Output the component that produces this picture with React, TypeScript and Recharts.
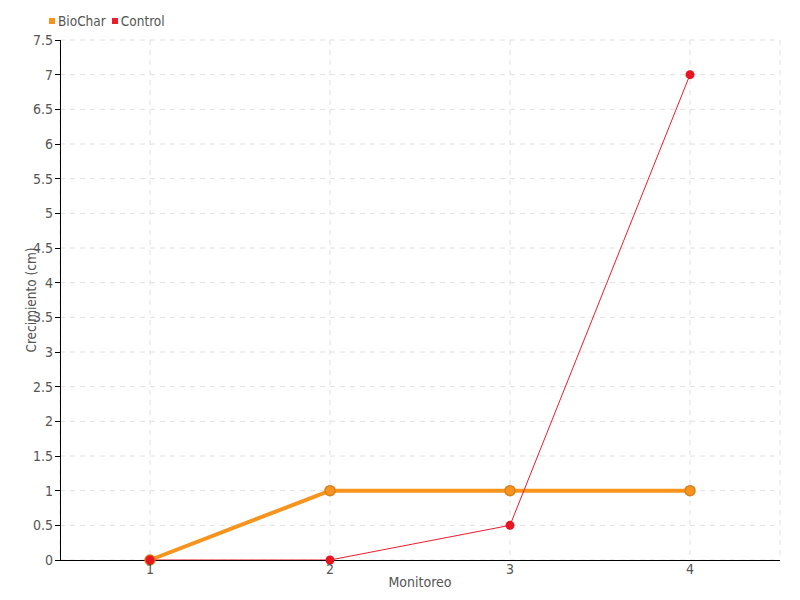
import React from 'react';
import { LineChart, Line, XAxis, YAxis, CartesianGrid } from 'recharts';

const categories = ['1', '2', '3', '4'];
const biocharValues = [0, 1, 1, 1];
const controlValues = [0, 0, 0.5, 7];
const yTicks = [0, 0.5, 1, 1.5, 2, 2.5, 3, 3.5, 4, 4.5, 5, 5.5, 6, 6.5, 7, 7.5];

const data = categories.map((c, i) => ({ cat: c, BioChar: biocharValues[i], Control: controlValues[i] }));

const FONT = '"DejaVu Sans Condensed", "Liberation Sans Narrow", sans-serif';
const ORANGE = '#F7941E';
const RED = '#EE1C2E';

export default function App() {
  return (
    <div style={{ position: 'absolute', left: 0, top: 0, width: 800, height: 600, background: '#fff' }}>
      <div style={{ position: 'absolute', left: 49, top: 13, display: 'flex', alignItems: 'center', fontFamily: FONT, fontSize: 13.5, color: '#555' }}>
        <span style={{ display: 'inline-block', width: 6, height: 6, background: ORANGE, marginRight: 3 }} />
        <span style={{ marginRight: 6 }}>BioChar</span>
        <span style={{ display: 'inline-block', width: 6, height: 6, background: RED, marginRight: 3 }} />
        <span>Control</span>
      </div>
      <LineChart width={800} height={600} data={data} margin={{ top: 40, right: 20, bottom: 10, left: 0 }}>
        <CartesianGrid stroke="#e0e0e0" strokeDasharray="5 5" />
        <XAxis
          dataKey="cat"
          padding={{ left: 90, right: 90 }}
          height={30}
          tickLine={false}
          tickSize={2}
          axisLine={{ stroke: '#000', shapeRendering: 'crispEdges' }}
          stroke="#000"
          tick={{ fill: '#555', fontSize: 14, fontFamily: FONT }}
          label={{ value: 'Monitoreo', position: 'insideBottom', offset: 3, fill: '#555', fontSize: 14, fontFamily: FONT }}
        />
        <YAxis
          width={60}
          domain={[0, 7.5]}
          ticks={yTicks}
          interval={0}
          tickSize={5}
          stroke="#000"
          tickLine={{ stroke: '#000', shapeRendering: 'crispEdges' }}
          axisLine={{ stroke: '#000', shapeRendering: 'crispEdges' }}
          tick={{ fill: '#555', fontSize: 14, fontFamily: FONT }}
        />
        <Line
          type="linear"
          dataKey="BioChar"
          stroke={ORANGE}
          strokeWidth={4}
          dot={{ r: 5, fill: ORANGE, stroke: '#D9801A', strokeWidth: 1.5 }}
          isAnimationActive={false}
        />
        <Line
          type="linear"
          dataKey="Control"
          stroke={RED}
          strokeWidth={1}
          dot={{ r: 4.5, fill: '#E8141F', stroke: '#E8141F', strokeWidth: 0 }}
          isAnimationActive={false}
        />
      </LineChart>
      <svg width={60} height={600} style={{ position: 'absolute', left: 0, top: 0, pointerEvents: 'none' }}>
        <text x={31} y={300} transform="rotate(-90, 31, 300)" textAnchor="middle" dominantBaseline="central" fill="#555" fontSize={13.5} fontFamily={FONT}>
          Crecimiento (cm)
        </text>
      </svg>
    </div>
  );
}
